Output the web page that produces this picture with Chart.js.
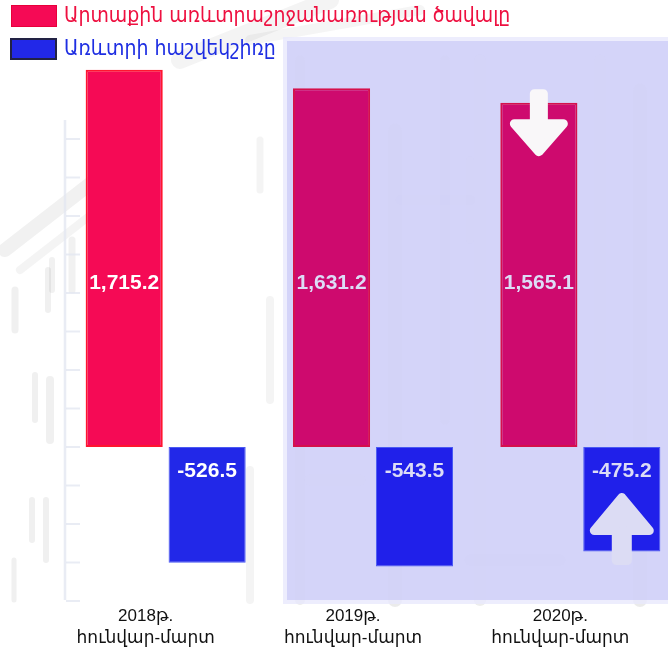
<!DOCTYPE html>
<html>
<head>
<meta charset="utf-8">
<script src="https://cdn.jsdelivr.net/npm/chart.js@4"></script>
<style>
  html, body { margin: 0; padding: 0; overflow: hidden; background: #fff; }
  #wrap { position: relative; width: 684px; height: 652px; background: #fff; }
  #legend { position: absolute; left: 0; top: 0; font-family: "DejaVu Sans Condensed", "DejaVu Sans", sans-serif; font-size: 21px; }
  .item { position: absolute; left: 11px; white-space: nowrap; }
  .box { position: absolute; left: 0; width: 46px; height: 22px; box-sizing: border-box; }
  .txt { position: absolute; left: 53px; top: -2px; line-height: 24px; }
</style>
</head>
<body>
<div id="wrap">
  <canvas id="chart" width="684" height="652"></canvas>
  <div id="legend"></div>
</div>
<script>
const categories = [["2018թ.", "հունվար-մարտ"], ["2019թ.", "հունվար-մարտ"], ["2020թ.", "հունվար-մարտ"]];
const seriesNames = ["Արտաքին առևտրաշրջանառության ծավալը", "Առևտրի հաշվեկշիռը"];
const tradeTurnover = [1715.2, 1631.2, 1565.1];
const tradeBalance = [-526.5, -543.5, -475.2];

const redFill = ["#F50A55", "#CE0A6E", "#CE0A6E"];
const redBorder = ["#FF1530", "#D5104C", "#D5104C"];
const blueFill = ["#2228E8", "#2020EA", "#2020EA"];
const labelColor = ["#FFFFFF", "#DCDCF6", "#DCDCF6"];

// faded photo strokes behind the chart: [x1, y1, x2, y2, width, alpha]
const photoStrokes = [
  [5, 250, 95, 180, 14, 0.07], [20, 270, 110, 200, 8, 0.06], [180, 60, 330, 0, 18, 0.06],
  [250, 40, 420, 10, 10, 0.05], [15, 290, 15, 330, 7, 0.08], [48, 270, 48, 310, 6, 0.08],
  [52, 260, 52, 290, 6, 0.07], [35, 375, 35, 420, 6, 0.08], [50, 380, 50, 440, 8, 0.08],
  [72, 240, 72, 290, 7, 0.07], [32, 500, 32, 540, 6, 0.08], [46, 500, 46, 560, 6, 0.08],
  [14, 560, 14, 600, 5, 0.08], [260, 140, 260, 190, 7, 0.06], [270, 300, 270, 400, 8, 0.06],
  [300, 60, 300, 600, 10, 0.10], [330, 110, 330, 300, 8, 0.08], [395, 130, 395, 600, 14, 0.10],
  [445, 60, 445, 420, 10, 0.10], [470, 160, 470, 240, 8, 0.08], [400, 200, 470, 200, 10, 0.08],
  [480, 60, 480, 600, 12, 0.09], [600, 60, 600, 440, 12, 0.08], [640, 90, 640, 600, 14, 0.10],
  [310, 480, 360, 480, 12, 0.08], [470, 560, 560, 560, 12, 0.07], [250, 470, 250, 600, 8, 0.06]
];

// legend
const legend = document.getElementById("legend");
legend.innerHTML = `
  <div class="item" style="top:5px;color:#EE1040">
    <div class="box" style="background:#F50A55;border:1px solid #E8003A"></div>
    <div class="txt">${seriesNames[0]}</div>
  </div>
  <div class="item" style="top:38px;color:#1E2EE2;left:10px">
    <div class="box" style="background:#2228E8;border:2px solid #222244;width:47px"></div>
    <div class="txt" style="left:54px">${seriesNames[1]}</div>
  </div>`;

const fmt = v => v.toLocaleString("en-US", { minimumFractionDigits: 1, maximumFractionDigits: 1 });

const backdropPlugin = {
  id: "backdrop",
  beforeDatasetsDraw(chart) {
    const ctx = chart.ctx;
    const y = chart.scales.y;
    ctx.save();
    ctx.lineCap = "round";
    photoStrokes.forEach(s => {
      ctx.strokeStyle = `rgba(60,60,60,${s[5]})`;
      ctx.lineWidth = s[4];
      ctx.beginPath();
      ctx.moveTo(s[0], s[1]);
      ctx.lineTo(s[2], s[3]);
      ctx.stroke();
    });
    // faint axis with ticks
    ctx.lineCap = "butt";
    ctx.strokeStyle = "rgba(226,229,240,0.75)";
    ctx.lineWidth = 2.5;
    ctx.beginPath();
    ctx.moveTo(65, 120);
    ctx.lineTo(65, 600);
    ctx.stroke();
    ctx.lineWidth = 2;
    y.ticks.forEach(t => {
      const py = y.getPixelForValue(t.value);
      if (py < 130) return;
      ctx.beginPath();
      ctx.moveTo(66, py);
      ctx.lineTo(80, py);
      ctx.stroke();
    });
    // lavender panel over 2019-2020
    const x0 = chart.scales.x.getPixelForValue(1) - 90;
    ctx.fillStyle = "rgba(232,232,252,0.8)";
    ctx.fillRect(x0, 37, chart.width - x0, 567);
    ctx.fillStyle = "rgba(196,196,246,0.6)";
    ctx.fillRect(x0 + 4, 41, chart.width - x0 - 4, 559);
    ctx.restore();
  }
};

function arrow(ctx, cx, shaftEnd, headBase, tip, shaftW, headW, color) {
  ctx.save();
  ctx.fillStyle = color;
  ctx.strokeStyle = color;
  ctx.lineJoin = "round";
  ctx.lineWidth = 9;
  ctx.beginPath();
  ctx.moveTo(cx - shaftW / 2 + 4.5, shaftEnd);
  ctx.lineTo(cx - shaftW / 2 + 4.5, headBase);
  ctx.lineTo(cx - headW / 2 + 4.5, headBase);
  ctx.lineTo(cx, tip);
  ctx.lineTo(cx + headW / 2 - 4.5, headBase);
  ctx.lineTo(cx + shaftW / 2 - 4.5, headBase);
  ctx.lineTo(cx + shaftW / 2 - 4.5, shaftEnd);
  ctx.closePath();
  ctx.fill();
  ctx.stroke();
  ctx.restore();
}

const labelPlugin = {
  id: "barLabels",
  afterDatasetsDraw(chart) {
    const ctx = chart.ctx;
    const zero = chart.scales.y.getPixelForValue(0);
    ctx.save();
    ctx.font = "bold 21px 'Liberation Sans', Arial, sans-serif";
    ctx.textAlign = "center";
    ctx.textBaseline = "middle";
    chart.getDatasetMeta(0).data.forEach((bar, i) => {
      ctx.fillStyle = labelColor[i];
      ctx.fillText(fmt(tradeTurnover[i]), bar.x, zero - 164);
    });
    chart.getDatasetMeta(1).data.forEach((bar, i) => {
      ctx.fillStyle = labelColor[i];
      ctx.fillText(fmt(tradeBalance[i]), bar.x, bar.base + 24);
    });
    ctx.restore();
    // arrows on the 2020 bars
    const r = chart.getDatasetMeta(0).data[2];
    arrow(ctx, r.x, r.y - 9, r.y + 21, r.y + 49, 18, 58, "#F9F7F9");
    const b = chart.getDatasetMeta(1).data[2];
    arrow(ctx, b.x, b.y + 9, b.y - 21, b.y - 54, 20, 64, "#DCDCF4");
  }
};

new Chart(document.getElementById("chart"), {
  type: "bar",
  data: {
    labels: categories,
    datasets: [
      { label: seriesNames[0], data: tradeTurnover, backgroundColor: redFill, borderColor: redBorder, borderWidth: 2, borderSkipped: false },
      { label: seriesNames[1], data: tradeBalance, backgroundColor: blueFill, borderColor: "#4A5AF2", borderWidth: 1, borderSkipped: false }
    ]
  },
  options: {
    responsive: false,
    animation: false,
    layout: { padding: { top: 51, left: 62, right: 0, bottom: 0 } },
    categoryPercentage: 0.8,
    barPercentage: 0.93,
    plugins: { legend: { display: false }, tooltip: { enabled: false } },
    scales: {
      y: { display: false, min: -700, max: 1800, ticks: { stepSize: 175 } },
      x: {
        grid: { display: false },
        border: { display: false },
        afterFit: s => { s.height = 51; },
        ticks: {
          padding: -4,
          labelOffset: -20,
          color: "#111",
          font: { family: "'Liberation Sans', 'DejaVu Sans', sans-serif", size: 17, lineHeight: 1.3 }
        }
      }
    }
  },
  plugins: [backdropPlugin, labelPlugin]
});
</script>
</body>
</html>
